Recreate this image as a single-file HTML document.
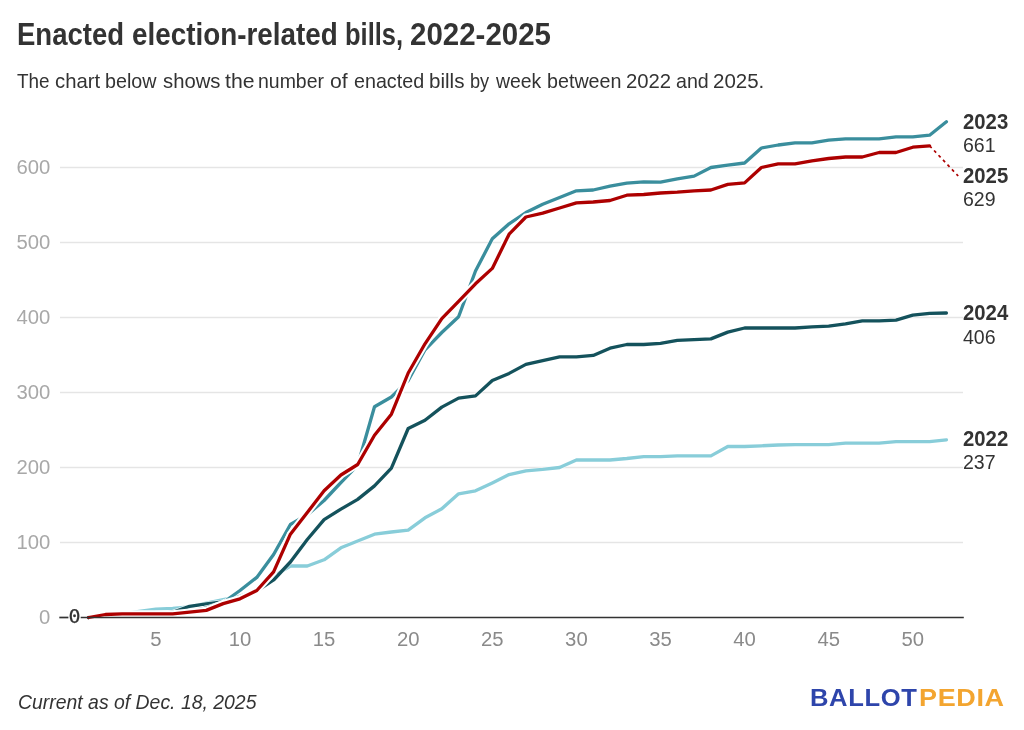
<!DOCTYPE html>
<html lang="en"><head><meta charset="utf-8"><title>Enacted election-related bills, 2022-2025</title>
<style>
html,body{margin:0;padding:0;background:#fff;}
body{width:1024px;height:730px;position:relative;overflow:hidden;font-family:"Liberation Sans",sans-serif;color:#333;}
h1{position:absolute;left:0;top:16.4px;margin:0;font-size:32px;line-height:34px;font-weight:bold;color:#333;white-space:nowrap;width:1024px;height:34px;}
h1 span{position:absolute;top:0.5px;transform-origin:0 0;}
p.sub{position:absolute;left:0;top:68.7px;margin:0;font-size:20.3px;line-height:24px;color:#333;white-space:nowrap;width:1024px;height:24px;}
p.sub span{position:absolute;top:0;transform-origin:0 0;}
p.foot{position:absolute;left:18px;top:689.6px;margin:0;font-size:20.3px;line-height:24px;font-style:italic;color:#333;white-space:nowrap;transform-origin:0 0;transform:scaleX(0.957);}
.logo{position:absolute;left:0;top:684.4px;font-size:24.2px;line-height:28px;font-weight:bold;letter-spacing:0.6px;white-space:nowrap;}
.logo span{position:absolute;top:0;transform-origin:0 0;}
.logo .b{color:#2e45ab;left:810px;transform:scaleX(1.058);} .logo .p{color:#f3a530;left:918.7px;transform:scaleX(1.115);}
svg{position:absolute;left:0;top:0;}
svg text{font-family:"Liberation Sans",sans-serif;font-size:20.3px;}
.yl{fill:#a8a8a8;} .xl{fill:#8a8a8a;}
.sl{font-weight:bold;fill:#333;font-size:22.2px;} .sv{fill:#333;}
svg text.z0,svg text.z1{font-family:"DejaVu Sans Mono","Liberation Mono",monospace;font-size:20px;fill:#333;}
svg text.z0{stroke:#fff;stroke-width:4px;stroke-linejoin:round;}
svg text.z1{stroke:#333;stroke-width:0.25px;}
</style></head><body>
<h1><span style="left:16.78px;transform:scaleX(.860)">Enacted </span><span style="left:131.63px;transform:scaleX(.870)">election-related </span><span style="left:344.66px;transform:scaleX(.797)">bills, </span><span style="left:410.33px;transform:scaleX(.921)">2022-2025</span></h1>
<p class="sub"><span style="left:17.07px;transform:scaleX(0.9308)">The </span><span style="left:54.6px;transform:scaleX(1.0011)">chart </span><span style="left:104.93px;transform:scaleX(0.9721)">below </span><span style="left:162.97px;transform:scaleX(0.999)">shows </span><span style="left:225.16px;transform:scaleX(1.0472)">the </span><span style="left:258.16px;transform:scaleX(0.9587)">number </span><span style="left:330.31px;transform:scaleX(1.0461)">of </span><span style="left:353.63px;transform:scaleX(0.9712)">enacted </span><span style="left:429.12px;transform:scaleX(1.0154)">bills </span><span style="left:470.03px;transform:scaleX(0.8966)">by </span><span style="left:496.15px;transform:scaleX(0.9574)">week </span><span style="left:546.68px;transform:scaleX(0.9716)">between </span><span style="left:625.98px;transform:scaleX(1.0001)">2022 </span><span style="left:676.11px;transform:scaleX(0.9682)">and </span><span style="left:712.72px;transform:scaleX(1.0107)">2025.</span></p>
<svg width="1024" height="730" viewBox="0 0 1024 730">
<line x1="60" x2="963" y1="542.5" y2="542.5" stroke="#e5e5e5" stroke-width="1.5"/>
<line x1="60" x2="963" y1="467.5" y2="467.5" stroke="#e5e5e5" stroke-width="1.5"/>
<line x1="60" x2="963" y1="392.5" y2="392.5" stroke="#e5e5e5" stroke-width="1.5"/>
<line x1="60" x2="963" y1="317.5" y2="317.5" stroke="#e5e5e5" stroke-width="1.5"/>
<line x1="60" x2="963" y1="242.5" y2="242.5" stroke="#e5e5e5" stroke-width="1.5"/>
<line x1="60" x2="963" y1="167.5" y2="167.5" stroke="#e5e5e5" stroke-width="1.5"/>
<polyline points="88.6,617.5 105.4,615.2 122.2,613.8 139.1,611.5 155.9,609.2 172.7,608.5 189.5,607.0 206.3,603.2 223.2,599.5 240.0,596.1 256.8,590.5 273.6,576.2 290.4,566.0 307.3,566.0 324.1,559.8 340.9,547.8 357.7,541.0 374.5,534.2 391.4,532.0 408.2,530.1 425.0,517.8 441.8,508.8 458.6,493.8 475.5,490.8 492.3,482.9 509.1,474.6 525.9,470.9 542.7,469.4 559.6,467.5 576.4,460.0 593.2,460.0 610.0,460.0 626.8,458.5 643.7,456.6 660.5,456.6 677.3,455.9 694.1,455.9 710.9,455.9 727.8,446.5 744.6,446.5 761.4,445.8 778.2,445.0 795.0,444.6 811.9,444.6 828.7,444.6 845.5,443.1 862.3,443.1 879.1,443.1 896.0,441.6 912.8,441.6 929.6,441.6 946.4,439.8" fill="none" stroke="#fff" stroke-width="4.5" stroke-linejoin="round" stroke-linecap="butt" stroke-opacity="0.85"/>
<polyline points="88.6,617.5 105.4,615.2 122.2,613.8 139.1,611.5 155.9,609.2 172.7,608.5 189.5,607.0 206.3,603.2 223.2,599.5 240.0,596.1 256.8,590.5 273.6,576.2 290.4,566.0 307.3,566.0 324.1,559.8 340.9,547.8 357.7,541.0 374.5,534.2 391.4,532.0 408.2,530.1 425.0,517.8 441.8,508.8 458.6,493.8 475.5,490.8 492.3,482.9 509.1,474.6 525.9,470.9 542.7,469.4 559.6,467.5 576.4,460.0 593.2,460.0 610.0,460.0 626.8,458.5 643.7,456.6 660.5,456.6 677.3,455.9 694.1,455.9 710.9,455.9 727.8,446.5 744.6,446.5 761.4,445.8 778.2,445.0 795.0,444.6 811.9,444.6 828.7,444.6 845.5,443.1 862.3,443.1 879.1,443.1 896.0,441.6 912.8,441.6 929.6,441.6 946.4,439.8" fill="none" stroke="#88cdd9" stroke-width="3.3" stroke-linejoin="round" stroke-linecap="round"/>

<polyline points="88.6,617.5 105.4,616.0 122.2,615.2 139.1,614.5 155.9,613.8 172.7,612.2 189.5,606.4 206.3,603.9 223.2,601.8 240.0,598.0 256.8,591.2 273.6,580.0 290.4,562.0 307.3,539.5 324.1,519.6 340.9,509.1 357.7,499.4 374.5,485.9 391.4,468.2 408.2,428.5 425.0,420.2 441.8,407.1 458.6,398.1 475.5,395.9 492.3,380.5 509.1,373.4 525.9,364.4 542.7,360.6 559.6,356.9 576.4,356.9 593.2,355.4 610.0,348.2 626.8,344.5 643.7,344.5 660.5,343.4 677.3,340.4 694.1,339.6 710.9,338.9 727.8,332.1 744.6,328.0 761.4,328.0 778.2,328.0 795.0,328.0 811.9,326.9 828.7,326.1 845.5,323.9 862.3,320.9 879.1,320.9 896.0,320.1 912.8,315.2 929.6,313.4 946.4,313.0" fill="none" stroke="#fff" stroke-width="4.5" stroke-linejoin="round" stroke-linecap="butt" stroke-opacity="0.85"/>
<polyline points="88.6,617.5 105.4,616.0 122.2,615.2 139.1,614.5 155.9,613.8 172.7,612.2 189.5,606.4 206.3,603.9 223.2,601.8 240.0,598.0 256.8,591.2 273.6,580.0 290.4,562.0 307.3,539.5 324.1,519.6 340.9,509.1 357.7,499.4 374.5,485.9 391.4,468.2 408.2,428.5 425.0,420.2 441.8,407.1 458.6,398.1 475.5,395.9 492.3,380.5 509.1,373.4 525.9,364.4 542.7,360.6 559.6,356.9 576.4,356.9 593.2,355.4 610.0,348.2 626.8,344.5 643.7,344.5 660.5,343.4 677.3,340.4 694.1,339.6 710.9,338.9 727.8,332.1 744.6,328.0 761.4,328.0 778.2,328.0 795.0,328.0 811.9,326.9 828.7,326.1 845.5,323.9 862.3,320.9 879.1,320.9 896.0,320.1 912.8,315.2 929.6,313.4 946.4,313.0" fill="none" stroke="#14525c" stroke-width="3.3" stroke-linejoin="round" stroke-linecap="round"/>

<polyline points="88.6,617.5 105.4,616.0 122.2,615.2 139.1,615.2 155.9,614.5 172.7,613.8 189.5,611.5 206.3,607.8 223.2,602.5 240.0,590.5 256.8,577.4 273.6,554.5 290.4,524.5 307.3,514.8 324.1,500.5 340.9,482.5 357.7,465.2 374.5,406.8 391.4,397.0 408.2,380.5 425.0,349.8 441.8,332.5 458.6,316.8 475.5,271.0 492.3,238.8 509.1,223.8 525.9,212.5 542.7,204.2 559.6,197.5 576.4,190.8 593.2,190.0 610.0,186.2 626.8,183.2 643.7,181.8 660.5,182.1 677.3,178.8 694.1,176.1 710.9,167.5 727.8,165.2 744.6,163.0 761.4,148.0 778.2,145.0 795.0,142.8 811.9,142.8 828.7,140.1 845.5,138.8 862.3,138.8 879.1,138.8 896.0,136.8 912.8,136.8 929.6,135.2 946.4,121.8" fill="none" stroke="#fff" stroke-width="4.5" stroke-linejoin="round" stroke-linecap="butt" stroke-opacity="0.85"/>
<polyline points="88.6,617.5 105.4,616.0 122.2,615.2 139.1,615.2 155.9,614.5 172.7,613.8 189.5,611.5 206.3,607.8 223.2,602.5 240.0,590.5 256.8,577.4 273.6,554.5 290.4,524.5 307.3,514.8 324.1,500.5 340.9,482.5 357.7,465.2 374.5,406.8 391.4,397.0 408.2,380.5 425.0,349.8 441.8,332.5 458.6,316.8 475.5,271.0 492.3,238.8 509.1,223.8 525.9,212.5 542.7,204.2 559.6,197.5 576.4,190.8 593.2,190.0 610.0,186.2 626.8,183.2 643.7,181.8 660.5,182.1 677.3,178.8 694.1,176.1 710.9,167.5 727.8,165.2 744.6,163.0 761.4,148.0 778.2,145.0 795.0,142.8 811.9,142.8 828.7,140.1 845.5,138.8 862.3,138.8 879.1,138.8 896.0,136.8 912.8,136.8 929.6,135.2 946.4,121.8" fill="none" stroke="#3a8e9d" stroke-width="3.3" stroke-linejoin="round" stroke-linecap="round"/>

<polyline points="88.6,617.5 105.4,614.5 122.2,613.8 139.1,613.8 155.9,613.8 172.7,613.8 189.5,612.2 206.3,610.4 223.2,603.6 240.0,598.8 256.8,590.5 273.6,571.8 290.4,534.2 307.3,512.5 324.1,490.8 340.9,475.0 357.7,464.5 374.5,435.2 391.4,414.2 408.2,373.0 425.0,343.8 441.8,318.6 458.6,301.4 475.5,283.8 492.3,268.4 509.1,234.2 525.9,217.0 542.7,213.2 559.6,208.0 576.4,202.8 593.2,202.0 610.0,200.5 626.8,195.2 643.7,194.5 660.5,193.0 677.3,192.2 694.1,190.8 710.9,190.0 727.8,184.4 744.6,182.9 761.4,167.5 778.2,163.8 795.0,163.8 811.9,160.8 828.7,158.5 845.5,157.0 862.3,157.0 879.1,152.5 896.0,152.5 912.8,147.2 929.6,145.8" fill="none" stroke="#fff" stroke-width="7.3" stroke-linejoin="round" stroke-linecap="butt" stroke-opacity="1"/>
<polyline points="88.6,617.5 105.4,614.5 122.2,613.8 139.1,613.8 155.9,613.8 172.7,613.8 189.5,612.2 206.3,610.4 223.2,603.6 240.0,598.8 256.8,590.5 273.6,571.8 290.4,534.2 307.3,512.5 324.1,490.8 340.9,475.0 357.7,464.5 374.5,435.2 391.4,414.2 408.2,373.0 425.0,343.8 441.8,318.6 458.6,301.4 475.5,283.8 492.3,268.4 509.1,234.2 525.9,217.0 542.7,213.2 559.6,208.0 576.4,202.8 593.2,202.0 610.0,200.5 626.8,195.2 643.7,194.5 660.5,193.0 677.3,192.2 694.1,190.8 710.9,190.0 727.8,184.4 744.6,182.9 761.4,167.5 778.2,163.8 795.0,163.8 811.9,160.8 828.7,158.5 845.5,157.0 862.3,157.0 879.1,152.5 896.0,152.5 912.8,147.2 929.6,145.8" fill="none" stroke="#ad0000" stroke-width="3.3" stroke-linejoin="round" stroke-linecap="round"/>

<line x1="59.3" x2="68.4" y1="617.5" y2="617.5" stroke="#333" stroke-width="1.7"/>
<line x1="80.7" x2="963.8" y1="617.5" y2="617.5" stroke="#333" stroke-width="1.7"/>
<line x1="929.6" y1="145.8" x2="958.2" y2="176" stroke="#ad0000" stroke-width="1.7" stroke-dasharray="3,3.5"/>
<text x="50.3" y="624" text-anchor="end" class="yl">0</text>
<text x="50.3" y="549" text-anchor="end" class="yl">100</text>
<text x="50.3" y="474" text-anchor="end" class="yl">200</text>
<text x="50.3" y="399" text-anchor="end" class="yl">300</text>
<text x="50.3" y="324" text-anchor="end" class="yl">400</text>
<text x="50.3" y="249" text-anchor="end" class="yl">500</text>
<text x="50.3" y="174" text-anchor="end" class="yl">600</text>
<text x="155.9" y="646" text-anchor="middle" class="xl">5</text>
<text x="240.0" y="646" text-anchor="middle" class="xl">10</text>
<text x="324.1" y="646" text-anchor="middle" class="xl">15</text>
<text x="408.2" y="646" text-anchor="middle" class="xl">20</text>
<text x="492.3" y="646" text-anchor="middle" class="xl">25</text>
<text x="576.4" y="646" text-anchor="middle" class="xl">30</text>
<text x="660.5" y="646" text-anchor="middle" class="xl">35</text>
<text x="744.6" y="646" text-anchor="middle" class="xl">40</text>
<text x="828.7" y="646" text-anchor="middle" class="xl">45</text>
<text x="912.8" y="646" text-anchor="middle" class="xl">50</text>
<text x="74.5" y="623" text-anchor="middle" class="z1">0</text>
<text x="963" y="129.0" class="sl" textLength="45.2" lengthAdjust="spacingAndGlyphs">2023</text><text x="963" y="152.0" class="sv" textLength="32.6" lengthAdjust="spacingAndGlyphs">661</text>
<text x="963" y="183.0" class="sl" textLength="45.2" lengthAdjust="spacingAndGlyphs">2025</text><text x="963" y="206.0" class="sv" textLength="32.6" lengthAdjust="spacingAndGlyphs">629</text>
<text x="963" y="320.0" class="sl" textLength="45.2" lengthAdjust="spacingAndGlyphs">2024</text><text x="963" y="344.0" class="sv" textLength="32.6" lengthAdjust="spacingAndGlyphs">406</text>
<text x="963" y="446.0" class="sl" textLength="45.2" lengthAdjust="spacingAndGlyphs">2022</text><text x="963" y="469.0" class="sv" textLength="32.6" lengthAdjust="spacingAndGlyphs">237</text>
</svg>
<p class="foot">Current as of Dec. 18, 2025</p>
<div class="logo"><span class="b">BALLOT</span><span class="p">PEDIA</span></div>
</body></html>
